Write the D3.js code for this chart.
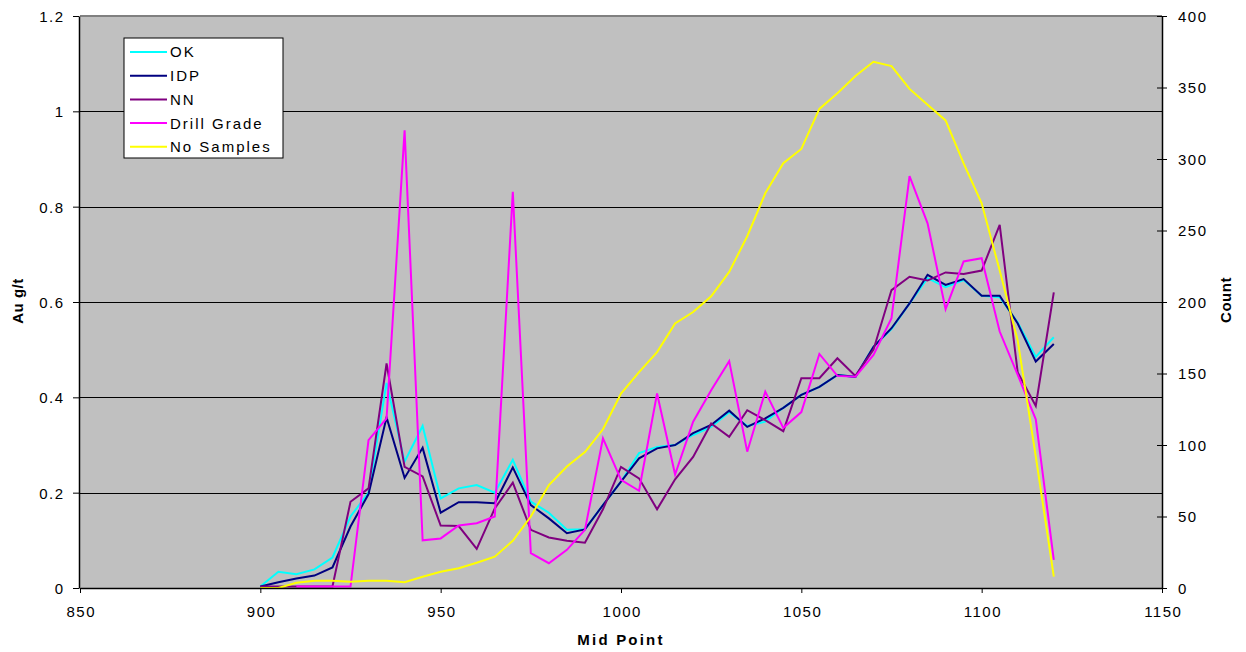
<!DOCTYPE html>
<html>
<head>
<meta charset="utf-8">
<script src="https://cdn.jsdelivr.net/npm/d3@7"></script>
<style>
    body { margin: 0; background: #fff; }
    text { font-family: "Liberation Sans", Arial, sans-serif; fill: #000; }
    .axis text { font-size: 15px; letter-spacing: 1.5px; }
    .axis path, .axis line { stroke: #000; }
    .title { font-size: 15px; font-weight: bold; }
    .legend_text { font-size: 15px; letter-spacing: 2px; }
</style>
</head>
<body>
<script>
    const CANVAS = { WIDTH: 1246, HEIGHT: 652 };
    const PLOT = { LEFT: 80, RIGHT: 1162, TOP: 16, BOTTOM: 588 };

    // data
    const midPoint = [900, 905, 910, 915, 920, 925, 930, 935, 940, 945, 950, 955, 960, 965, 970, 975, 980, 985, 990, 995,
        1000, 1005, 1010, 1015, 1020, 1025, 1030, 1035, 1040, 1045, 1050, 1055, 1060, 1065, 1070, 1075, 1080, 1085, 1090, 1095,
        1100, 1105, 1110, 1115, 1120];
    const okGrade = [0.003, 0.034, 0.029, 0.039, 0.064, 0.15, 0.2, 0.43, 0.265, 0.34, 0.188, 0.209, 0.216, 0.2, 0.269, 0.181, 0.158, 0.122, 0.123, 0.174,
        0.223, 0.283, 0.296, 0.3, 0.321, 0.338, 0.369, 0.34, 0.349, 0.378, 0.405, 0.422, 0.447, 0.443, 0.506, 0.543, 0.597, 0.65, 0.631, 0.646,
        0.613, 0.61, 0.557, 0.485, 0.526];
    const idpGrade = [0.003, 0.012, 0.02, 0.026, 0.043, 0.129, 0.197, 0.358, 0.231, 0.294, 0.158, 0.18, 0.18, 0.178, 0.253, 0.174, 0.146, 0.115, 0.123, 0.174,
        0.223, 0.272, 0.293, 0.3, 0.325, 0.342, 0.372, 0.338, 0.356, 0.378, 0.405, 0.422, 0.447, 0.443, 0.506, 0.545, 0.597, 0.657, 0.636, 0.648,
        0.613, 0.613, 0.555, 0.475, 0.512];
    const nnGrade = [0.003, 0.003, 0.003, 0.003, 0.003, 0.181, 0.209, 0.471, 0.254, 0.234, 0.131, 0.13, 0.082, 0.167, 0.221, 0.122, 0.106, 0.099, 0.095, 0.165,
        0.254, 0.23, 0.165, 0.228, 0.275, 0.345, 0.317, 0.373, 0.352, 0.329, 0.44, 0.44, 0.482, 0.445, 0.5, 0.625, 0.653, 0.645, 0.662, 0.659,
        0.666, 0.762, 0.452, 0.382, 0.62];
    const drillGrade = [null, null, 0.003, 0.003, 0.003, 0.003, 0.31, 0.356, 0.96, 0.1, 0.104, 0.131, 0.136, 0.15, 0.831, 0.073, 0.052, 0.08, 0.122, 0.314,
        0.227, 0.204, 0.408, 0.238, 0.349, 0.415, 0.476, 0.286, 0.412, 0.336, 0.369, 0.491, 0.445, 0.443, 0.489, 0.566, 0.864, 0.765, 0.585, 0.685,
        0.692, 0.538, 0.447, 0.354, 0.059];
    const sampleCount = [0, 0, 3.7, 5, 5, 4.4, 5, 5, 4, 7.9, 11.4, 13.8, 17.7, 21.9, 33, 50, 72, 85, 95, 111,
        136, 151, 165, 185, 193, 204, 221, 246, 276, 297, 307, 335, 346, 358, 368, 365, 349, 338, 327, 297,
        269, 222, 173, 92, 8];

    const seriesNames = ["OK", "IDP", "NN", "Drill Grade", "No Samples"];
    const seriesColors = ["#00FFFF", "#000080", "#800080", "#FF00FF", "#FFFF00"];
    const seriesValues = [okGrade, idpGrade, nnGrade, drillGrade, sampleCount];

    var x = d3.scaleLinear().domain([850, 1150]).range([PLOT.LEFT, PLOT.RIGHT]);
    var y = d3.scaleLinear().domain([0, 1.2]).range([PLOT.BOTTOM, PLOT.TOP]);
    var yCount = d3.scaleLinear().domain([0, 400]).range([PLOT.BOTTOM, PLOT.TOP]);

    var canvas = d3.select("body")
        .append("svg")
        .attr("width", CANVAS.WIDTH)
        .attr("height", CANVAS.HEIGHT);

    // plot background
    canvas.append("rect")
        .attr("x", PLOT.LEFT)
        .attr("y", PLOT.TOP)
        .attr("width", PLOT.RIGHT - PLOT.LEFT)
        .attr("height", PLOT.BOTTOM - PLOT.TOP)
        .attr("fill", "#C0C0C0");

    // gridlines
    canvas.append("g")
        .selectAll("line")
        .data(y.ticks(6).filter(function(d) { return d > 0 && d < 1.2; }))
        .enter()
        .append("line")
        .attr("x1", PLOT.LEFT)
        .attr("x2", PLOT.RIGHT)
        .attr("y1", function(d) { return Math.round(y(d)) + 0.5; })
        .attr("y2", function(d) { return Math.round(y(d)) + 0.5; })
        .attr("stroke", "#000")
        .attr("stroke-width", 1);

    // top border
    canvas.append("line")
        .attr("x1", PLOT.LEFT)
        .attr("x2", PLOT.RIGHT)
        .attr("y1", PLOT.TOP)
        .attr("y2", PLOT.TOP)
        .attr("stroke", "#808080")
        .attr("stroke-width", 2);

    // series lines
    seriesValues.forEach(function(values, i) {
        var scaleY = i === 4 ? yCount : y;
        var line = d3.line()
            .defined(function(d) { return d !== null; })
            .x(function(d, j) { return x(midPoint[j]); })
            .y(function(d) { return scaleY(d); });
        canvas.append("path")
            .datum(values)
            .attr("fill", "none")
            .attr("stroke", seriesColors[i])
            .attr("stroke-width", 2)
            .attr("stroke-linejoin", "miter")
            .attr("d", line);
    });

    // axes
    var axisX = d3.axisBottom(x).ticks(6).tickSize(5).tickSizeOuter(0).tickFormat(d3.format(""));
    var axisY = d3.axisLeft(y).ticks(6).tickSize(6).tickSizeOuter(0).tickFormat(function(d) { return d; });
    var axisCount = d3.axisRight(yCount).ticks(8).tickSize(5).tickSizeOuter(0);

    var gx = canvas.append("g")
        .attr("class", "axis")
        .attr("transform", "translate(0," + PLOT.BOTTOM + ")")
        .call(axisX);
    gx.selectAll("text")
        .attr("x", 0.75)
        .attr("y", 29)
        .attr("dy", 0);

    var gy = canvas.append("g")
        .attr("class", "axis")
        .attr("transform", "translate(" + (PLOT.LEFT - 1) + ",0)")
        .call(axisY);
    gy.selectAll("text")
        .attr("x", -14.5)
        .attr("dy", "0.36em");

    var gc = canvas.append("g")
        .attr("class", "axis")
        .attr("transform", "translate(" + PLOT.RIGHT + ",0)")
        .call(axisCount);
    gc.selectAll(".tick line").attr("x1", -5).attr("x2", 5);
    gc.selectAll("text")
        .attr("x", 16)
        .attr("dy", "0.36em");

    canvas.selectAll(".axis .domain").attr("stroke-width", 1.5);

    // axis titles
    canvas.append("text")
        .attr("class", "title")
        .attr("text-anchor", "middle")
        .attr("x", 621)
        .attr("y", 645)
        .attr("letter-spacing", 2.2)
        .text("Mid Point");

    canvas.append("text")
        .attr("class", "title")
        .attr("text-anchor", "middle")
        .attr("letter-spacing", 0.5)
        .attr("transform", "translate(23,301) rotate(-90)")
        .text("Au g/t");

    canvas.append("text")
        .attr("class", "title")
        .attr("text-anchor", "middle")
        .attr("letter-spacing", 0.5)
        .attr("transform", "translate(1231,300) rotate(-90)")
        .text("Count");

    // legend
    var legend = canvas.append("g")
        .attr("transform", "translate(124,38)");

    legend.append("rect")
        .attr("width", 159)
        .attr("height", 120)
        .attr("fill", "#fff")
        .attr("stroke", "#000")
        .attr("stroke-width", 1);

    var rows = legend.selectAll(".legend_row")
        .data(seriesNames)
        .enter()
        .append("g")
        .attr("transform", function(d, i) { return "translate(0," + (14 + i * 23.7) + ")"; });

    rows.append("line")
        .attr("x1", 6)
        .attr("x2", 43)
        .attr("stroke", function(d, i) { return seriesColors[i]; })
        .attr("stroke-width", 2);

    rows.append("text")
        .attr("class", "legend_text")
        .attr("x", 46)
        .attr("dy", "0.36em")
        .text(function(d) { return d; });
</script>
</body>
</html>
